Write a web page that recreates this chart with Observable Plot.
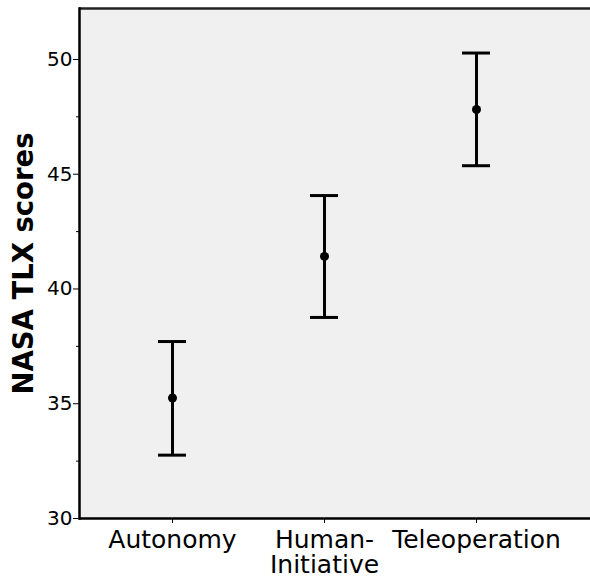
<!DOCTYPE html>
<html>
<head>
<meta charset="utf-8">
<script src="https://cdn.jsdelivr.net/npm/d3@7"></script>
<script src="https://cdn.jsdelivr.net/npm/@observablehq/plot@0.6"></script>
<style>
  html, body { margin: 0; padding: 0; background: #fff; }
  svg { display: block; font-family: "DejaVu Sans", sans-serif; }
</style>
</head>
<body>
<div id="chart"></div>
<script>
const conditions = ["Autonomy", "Human-\nInitiative", "Teleoperation"];
const means = [35.25, 41.42, 47.82];
const lower = [32.76, 38.76, 45.37];
const upper = [37.71, 44.07, 50.28];
const yDomain = [30, 52.22];
const majorTicks = [30, 35, 40, 45, 50];
const minorTicks = [32.5, 37.5, 42.5, 47.5];
const yLabel = "NASA TLX scores";

const data = conditions.map((c, i) => ({cond: c, mean: means[i], lo: lower[i], hi: upper[i]}));

const chart = Plot.plot({
  width: 590,
  height: 576,
  marginLeft: 79,
  marginRight: 0,
  marginTop: 8,
  marginBottom: 58,
  style: {fontFamily: "DejaVu Sans, sans-serif", color: "#000", background: "#fff"},
  x: {type: "band", domain: conditions, paddingInner: 0.816, paddingOuter: 0, insetLeft: 79, insetRight: 100},
  y: {domain: yDomain},
  marks: [
    Plot.frame({fill: "#f0f0f0", stroke: null}),
    Plot.ruleY([yDomain[1]], {stroke: "#222", strokeWidth: 2.5}),
    Plot.axisY({ticks: minorTicks, tickSize: 3, text: null, stroke: "#000"}),
    Plot.axisY({ticks: majorTicks, tickSize: 6, tickPadding: 1, fontSize: 20, label: null, stroke: "#000", fill: "#000"}),
    Plot.axisX({tickSize: 5, tickPadding: 6, fontSize: 25, label: null, lineHeight: 1.02, stroke: "#000", fill: "#000"}),
    Plot.ruleY([yDomain[0]], {stroke: "#000", strokeWidth: 2.5}),
    Plot.frame({anchor: "left", stroke: "#000", strokeWidth: 2.5}),
    Plot.ruleX(data, {x: "cond", y1: "lo", y2: "hi", stroke: "#000", strokeWidth: 3}),
    Plot.tickY(data, {x: "cond", y: "lo", stroke: "#000", strokeWidth: 3}),
    Plot.tickY(data, {x: "cond", y: "hi", stroke: "#000", strokeWidth: 3}),
    Plot.dot(data, {x: "cond", y: "mean", r: 4.5, fill: "#000", stroke: null}),
    Plot.text([yLabel], {frameAnchor: "left", rotate: -90, dx: -55, dy: 0, fontSize: 27.5, fontWeight: "bold", fill: "#000", lineAnchor: "middle", textAnchor: "middle"})
  ]
});
document.getElementById("chart").appendChild(chart);
</script>
</body>
</html>
